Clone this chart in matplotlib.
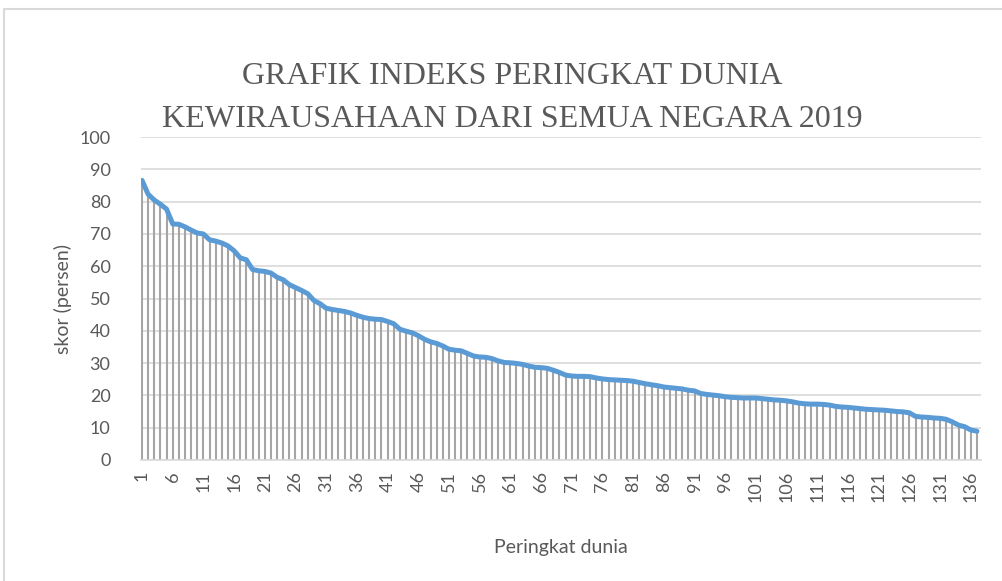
import numpy as np
import matplotlib.pyplot as plt
from matplotlib.patches import Rectangle
from matplotlib.font_manager import FontProperties

# GEI 2019 scores (rank 1..137)
skor = [86.6, 82.3, 80.5, 79.2, 77.7, 73.1, 73.0, 72.2, 71.2, 70.3,
        70.0, 68.2, 67.8, 67.2, 66.3, 64.8, 62.6, 62.0, 59.0, 58.6,
        58.4, 57.9, 56.6, 55.8, 54.3, 53.4, 52.5, 51.5, 49.4, 48.4,
        47.0, 46.6, 46.3, 46.0, 45.5, 44.8, 44.2, 43.8, 43.6, 43.5,
        42.9, 42.2, 40.5, 39.9, 39.4, 38.5, 37.4, 36.6, 36.1, 35.3,
        34.3, 34.0, 33.8, 33.0, 32.2, 31.9, 31.8, 31.4, 30.7, 30.2,
        30.1, 29.9, 29.6, 29.1, 28.7, 28.6, 28.4, 27.8, 27.1, 26.3,
        26.0, 25.9, 25.9, 25.8, 25.4, 25.1, 24.9, 24.8, 24.7, 24.6,
        24.4, 24.0, 23.6, 23.3, 23.0, 22.6, 22.4, 22.2, 22.0, 21.6,
        21.4, 20.6, 20.3, 20.1, 19.9, 19.6, 19.4, 19.3, 19.2, 19.2,
        19.2, 19.0, 18.8, 18.6, 18.5, 18.3, 18.0, 17.6, 17.4, 17.3,
        17.3, 17.2, 17.0, 16.6, 16.4, 16.3, 16.1, 15.9, 15.7, 15.6,
        15.5, 15.4, 15.2, 15.0, 14.9, 14.6, 13.5, 13.3, 13.2, 13.0,
        12.9, 12.6, 11.8, 10.8, 10.3, 9.3, 8.9]
peringkat = np.arange(1, len(skor) + 1)
xtick_pos = np.arange(1, 137, 5)
yticks = np.arange(0, 101, 10)
judul = ['GRAFIK INDEKS PERINGKAT DUNIA', 'KEWIRAUSAHAAN DARI SEMUA NEGARA 2019']

grey_txt = '#595959'
plt.rcParams['font.family'] = ['Lato', 'DejaVu Sans']

fig = plt.figure(figsize=(10.03, 5.81), dpi=100)
# chart border (only top and left edges fall inside the picture)
fig.patches.append(Rectangle((0.004, -0.1), 1.2, 1.1 - 0.0155, transform=fig.transFigure,
                             fill=False, edgecolor='#D9D9D9', linewidth=1.5))

ax = fig.add_axes([0.1406, 0.2083, 0.8374, 0.5557])
ax.vlines(peringkat, 0, skor, color='#A5A5A5', linewidth=1.5, zorder=2)
ax.plot(peringkat, skor, color='#5B9BD5', linewidth=3.6, solid_capstyle='round',
        solid_joinstyle='round', zorder=3)

ax.set_xlim(0.84, 137.65)
ax.set_ylim(0, 100)
ax.set_yticks(yticks)
ax.set_xticks(xtick_pos)
ax.set_xticklabels([str(v) for v in xtick_pos], rotation=90)
ax.grid(axis='y', color='#D9D9D9', linewidth=1.2, zorder=0)
ax.tick_params(length=0, labelsize=13, colors=grey_txt)
ax.tick_params(axis='x', pad=8)
ax.tick_params(axis='y', pad=22)
for s in ['top', 'right', 'left']:
    ax.spines[s].set_visible(False)
ax.spines['bottom'].set_color('#D9D9D9')
ax.spines['bottom'].set_linewidth(1.2)
ax.set_axisbelow(True)

ax.set_ylabel('skor (persen)', fontsize=14, color=grey_txt, labelpad=5)
ax.set_xlabel('Peringkat dunia', fontsize=14, color=grey_txt, labelpad=26)

title_font = FontProperties(family='Liberation Serif', size=23)
for baris, ypos in zip(judul, [0.869, 0.795]):
    fig.text(0.511, ypos, baris, ha='center', va='center', color=grey_txt,
             fontproperties=title_font)

fig.savefig('out.png', dpi=100)
